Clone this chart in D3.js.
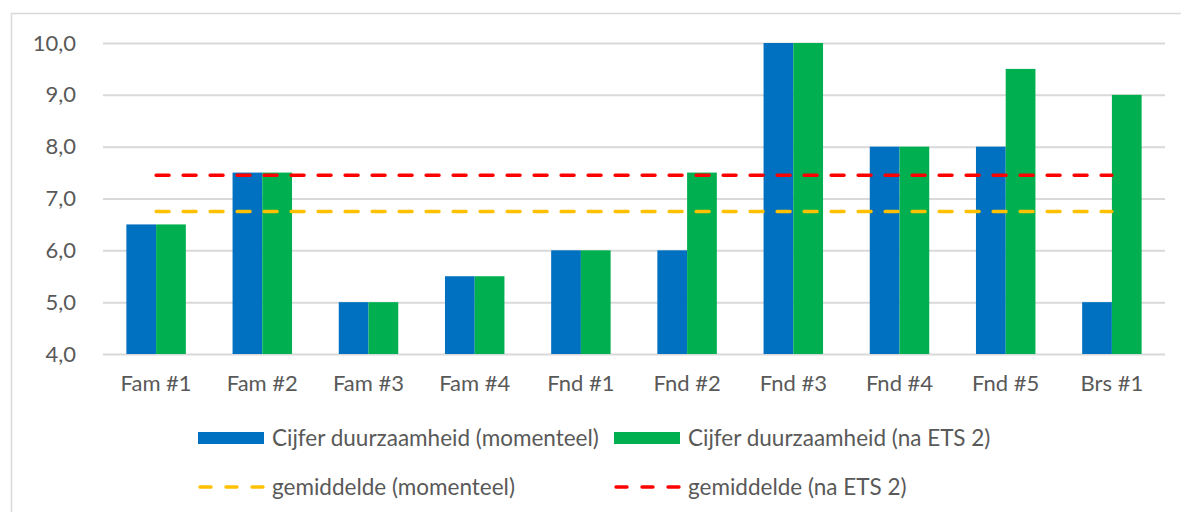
<!DOCTYPE html>
<html>
<head>
<meta charset="utf-8">
<script src="https://cdn.jsdelivr.net/npm/d3@7"></script>
<style>
  html, body { margin: 0; padding: 0; background: #fff; }
  svg { display: block; }
  text { font-family: Lato, "Open Sans", sans-serif; fill: #595959; }
</style>
</head>
<body>
<svg id="chart" width="1181" height="512"></svg>
<script>
// Categories and scores
const categories = ["Fam #1", "Fam #2", "Fam #3", "Fam #4", "Fnd #1", "Fnd #2", "Fnd #3", "Fnd #4", "Fnd #5", "Brs #1"];
const scoreNow   = [6.5, 7.5, 5.0, 5.5, 6.0, 6.0, 10.0, 8.0, 8.0, 5.0];
const scoreEts2  = [6.5, 7.5, 5.0, 5.5, 6.0, 7.5, 10.0, 8.0, 9.5, 9.0];
const yTicks     = [4, 5, 6, 7, 8, 9, 10];
const seriesNames = [
  "Cijfer duurzaamheid (momenteel)",
  "Cijfer duurzaamheid (na ETS 2)",
  "gemiddelde (momenteel)",
  "gemiddelde (na ETS 2)"
];

const colors = { now: "#0070C0", ets: "#00B050", avgNow: "#FFC000", avgEts: "#FF0000", grid: "#D9D9D9" };

const avgNow = d3.mean(scoreNow);
const avgEts = d3.mean(scoreEts2);

const svg = d3.select("#chart");
const fmt = v => d3.format(".1f")(v).replace(".", ",");

// Chart frame (extends past the right/bottom edges)
svg.append("rect")
  .attr("x", 11.5).attr("y", 13.5)
  .attr("width", 1200).attr("height", 520)
  .attr("fill", "none").attr("stroke", colors.grid).attr("stroke-width", 1.5);

const plot = { left: 103, right: 1165, top: 43, bottom: 354 };

const x = d3.scaleBand().domain(categories).range([plot.left, plot.right]).paddingInner(0).paddingOuter(0);
const y = d3.scaleLinear().domain([4, 10]).range([plot.bottom, plot.top]);

const groupWidth = x.bandwidth() * 0.56;
const xs = d3.scaleBand().domain(["now", "ets"]).range([0, groupWidth]);

// Gridlines via axis
const yAxis = d3.axisLeft(y).tickValues(yTicks).tickSize(-(plot.right - plot.left)).tickFormat(fmt).tickPadding(27);
const gy = svg.append("g").attr("transform", `translate(${plot.left},0)`).call(yAxis);
gy.select(".domain").remove();
gy.selectAll(".tick line").attr("stroke", colors.grid).attr("stroke-width", 2);
gy.selectAll(".tick text").attr("font-size", 22).attr("font-family", "Lato, sans-serif").attr("fill", "#595959");

// Bars
const groups = svg.append("g").selectAll("g")
  .data(categories.map((c, i) => ({ c, now: scoreNow[i], ets: scoreEts2[i] })))
  .join("g")
  .attr("transform", d => `translate(${x(d.c) + (x.bandwidth() - groupWidth) / 2},0)`);

groups.selectAll("rect")
  .data(d => [{ k: "now", v: d.now }, { k: "ets", v: d.ets }])
  .join("rect")
  .attr("x", d => xs(d.k))
  .attr("width", xs.bandwidth())
  .attr("y", d => y(d.v))
  .attr("height", d => y(4) - y(d.v))
  .attr("fill", d => d.k === "now" ? colors.now : colors.ets);

// Category axis labels
const xAxis = d3.axisBottom(x).tickSize(0).tickPadding(21);
const gx = svg.append("g").attr("transform", `translate(0,${plot.bottom})`).call(xAxis);
gx.select(".domain").remove();
gx.selectAll(".tick text").attr("font-size", 22).attr("font-family", "Lato, sans-serif").attr("fill", "#595959");

// Average lines, from the first to the last category centre
const line = d3.line().x(d => x(d[0]) + x.bandwidth() / 2).y(d => y(d[1]));
const first = categories[0], last = categories[categories.length - 1];
[[avgNow, colors.avgNow], [avgEts, colors.avgEts]].forEach(([v, col]) => {
  svg.append("path")
    .attr("d", line([[first, v], [last, v]]))
    .attr("fill", "none").attr("stroke", col)
    .attr("stroke-width", 3.4).attr("stroke-dasharray", "13,14")
    .attr("stroke-linecap", "round");
});

// Legend
const legendItems = [
  { name: seriesNames[0], type: "bar", color: colors.now, x: 198, y: 438 },
  { name: seriesNames[1], type: "bar", color: colors.ets, x: 614, y: 438 },
  { name: seriesNames[2], type: "line", color: colors.avgNow, x: 198, y: 487 },
  { name: seriesNames[3], type: "line", color: colors.avgEts, x: 614, y: 487 }
];
const lg = svg.append("g").selectAll("g").data(legendItems).join("g")
  .attr("transform", d => `translate(${d.x},${d.y})`);
lg.filter(d => d.type === "bar").append("rect")
  .attr("x", 0).attr("y", -6).attr("width", 66).attr("height", 12)
  .attr("fill", d => d.color);
lg.filter(d => d.type === "line").append("line")
  .attr("x1", 2).attr("x2", 66).attr("y1", 0).attr("y2", 0)
  .attr("stroke", d => d.color).attr("stroke-width", 3.4)
  .attr("stroke-dasharray", "11,15").attr("stroke-linecap", "round");
lg.append("text")
  .attr("x", 74).attr("y", 0).attr("dy", "0.35em")
  .attr("font-size", 22.5)
  .text(d => d.name);
</script>
</body>
</html>
